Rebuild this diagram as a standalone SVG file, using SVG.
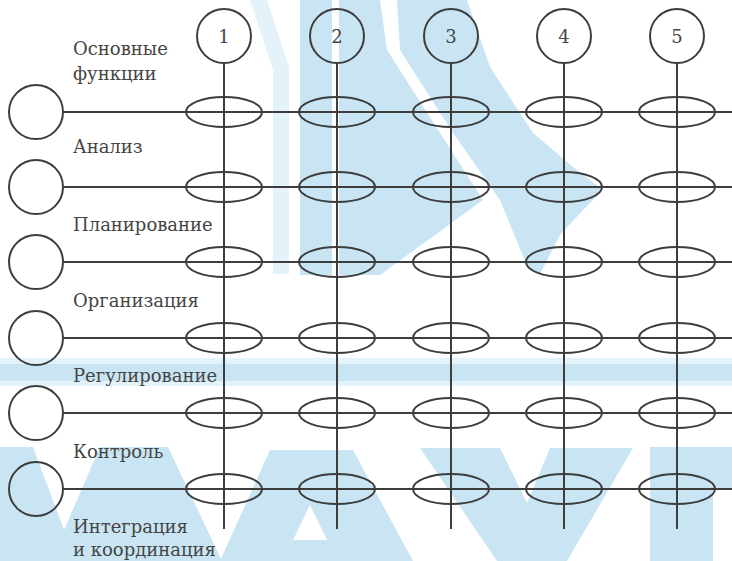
<svg xmlns="http://www.w3.org/2000/svg" width="732" height="561" viewBox="0 0 732 561">
<defs>
<style>
.wm{fill:#c9e5f3;stroke:none}
.wmp{fill:#e4f2f9;stroke:none}
.ln{stroke:#3d3d3d;stroke-width:2;fill:none}
.nd{stroke:#3d3d3d;stroke-width:2;fill:none}
.ov{stroke:#3d3d3d;stroke-width:2;fill:none}
.lb{font-family:"DejaVu Serif","Liberation Serif",serif;font-size:18px;fill:#454545}
.num{font-family:"DejaVu Serif","Liberation Serif",serif;font-size:18px;fill:#454545;text-anchor:middle}
</style>
</defs>
<rect width="732" height="561" fill="#ffffff"/>
<g id="watermark">
<polygon class="wmp" points="250,0 267,0 289,67 289,274 273,274 273,70"/>
<rect class="wm" x="300" y="0" width="32" height="275"/>
<polygon class="wm" points="339,0 380,0 387,50 440,133 483,200 380,275 339,275"/>
<polygon class="wm" points="397,0 467,0 490,67 533,133 573,167 603,190 583,210 560,235 540,274 527,266 500,200 453,133 400,50"/>
<rect class="wmp" x="0" y="358" width="732" height="28"/>
<rect class="wm" x="0" y="364" width="732" height="17"/>
<polygon class="wm" points="0,447 33,447 64,530 100,447 168,447 222,561 0,561"/>
<polygon class="wm" points="270,450 353,450 413,561 220,561"/>
<polygon fill="#ffffff" points="310,505 327,540 293,540"/>
<polygon class="wm" points="420,448 500,448 527,503 550,448 633,448 567,561 497,561"/>
<polygon class="wm" points="650,447 732,447 732,490 713,490 713,561 650,561"/>
</g>
<g id="connectors">
<line class="ln" x1="224" y1="63" x2="224" y2="529"/>
<line class="ln" x1="337" y1="63" x2="337" y2="529"/>
<line class="ln" x1="451" y1="63" x2="451" y2="529"/>
<line class="ln" x1="564" y1="63" x2="564" y2="529"/>
<line class="ln" x1="677" y1="63" x2="677" y2="529"/>
<line class="ln" x1="63" y1="112" x2="732" y2="112"/>
<line class="ln" x1="63" y1="187" x2="732" y2="187"/>
<line class="ln" x1="63" y1="262" x2="732" y2="262"/>
<line class="ln" x1="63" y1="338" x2="732" y2="338"/>
<line class="ln" x1="63" y1="413" x2="732" y2="413"/>
<line class="ln" x1="63" y1="489" x2="732" y2="489"/>
</g>
<g id="col1"><circle class="nd" cx="224" cy="36" r="27"/><text class="num" x="224" y="43">1</text></g>
<g id="col2"><circle class="nd" cx="337" cy="36" r="27"/><text class="num" x="337" y="43">2</text></g>
<g id="col3"><circle class="nd" cx="451" cy="36" r="27"/><text class="num" x="451" y="43">3</text></g>
<g id="col4"><circle class="nd" cx="564" cy="36" r="27"/><text class="num" x="564" y="43">4</text></g>
<g id="col5"><circle class="nd" cx="677" cy="36" r="27"/><text class="num" x="677" y="43">5</text></g>
<g id="row1"><circle class="nd" cx="36" cy="112" r="27"/></g>
<g id="row2"><circle class="nd" cx="36" cy="187" r="27"/></g>
<g id="row3"><circle class="nd" cx="36" cy="262" r="27"/></g>
<g id="row4"><circle class="nd" cx="36" cy="338" r="27"/></g>
<g id="row5"><circle class="nd" cx="36" cy="413" r="27"/></g>
<g id="row6"><circle class="nd" cx="36" cy="489" r="27"/></g>
<g id="intersections">
<ellipse class="ov" cx="224" cy="112" rx="38" ry="15"/><ellipse class="ov" cx="337" cy="112" rx="38" ry="15"/><ellipse class="ov" cx="451" cy="112" rx="38" ry="15"/><ellipse class="ov" cx="564" cy="112" rx="38" ry="15"/><ellipse class="ov" cx="677" cy="112" rx="38" ry="15"/>
<ellipse class="ov" cx="224" cy="187" rx="38" ry="15"/><ellipse class="ov" cx="337" cy="187" rx="38" ry="15"/><ellipse class="ov" cx="451" cy="187" rx="38" ry="15"/><ellipse class="ov" cx="564" cy="187" rx="38" ry="15"/><ellipse class="ov" cx="677" cy="187" rx="38" ry="15"/>
<ellipse class="ov" cx="224" cy="262" rx="38" ry="15"/><ellipse class="ov" cx="337" cy="262" rx="38" ry="15"/><ellipse class="ov" cx="451" cy="262" rx="38" ry="15"/><ellipse class="ov" cx="564" cy="262" rx="38" ry="15"/><ellipse class="ov" cx="677" cy="262" rx="38" ry="15"/>
<ellipse class="ov" cx="224" cy="338" rx="38" ry="15"/><ellipse class="ov" cx="337" cy="338" rx="38" ry="15"/><ellipse class="ov" cx="451" cy="338" rx="38" ry="15"/><ellipse class="ov" cx="564" cy="338" rx="38" ry="15"/><ellipse class="ov" cx="677" cy="338" rx="38" ry="15"/>
<ellipse class="ov" cx="224" cy="413" rx="38" ry="15"/><ellipse class="ov" cx="337" cy="413" rx="38" ry="15"/><ellipse class="ov" cx="451" cy="413" rx="38" ry="15"/><ellipse class="ov" cx="564" cy="413" rx="38" ry="15"/><ellipse class="ov" cx="677" cy="413" rx="38" ry="15"/>
<ellipse class="ov" cx="224" cy="489" rx="38" ry="15"/><ellipse class="ov" cx="337" cy="489" rx="38" ry="15"/><ellipse class="ov" cx="451" cy="489" rx="38" ry="15"/><ellipse class="ov" cx="564" cy="489" rx="38" ry="15"/><ellipse class="ov" cx="677" cy="489" rx="38" ry="15"/>
</g>
<g id="labels">
<text class="lb" x="73" y="55">Основные</text>
<text class="lb" x="73" y="80">функции</text>
<text class="lb" x="73" y="153">Анализ</text>
<text class="lb" x="73" y="231">Планирование</text>
<text class="lb" x="73" y="307">Организация</text>
<text class="lb" x="73" y="382">Регулирование</text>
<text class="lb" x="73" y="458">Контроль</text>
<text class="lb" x="73" y="533">Интеграция</text>
<text class="lb" x="73" y="556">и координация</text>
</g>
</svg>
